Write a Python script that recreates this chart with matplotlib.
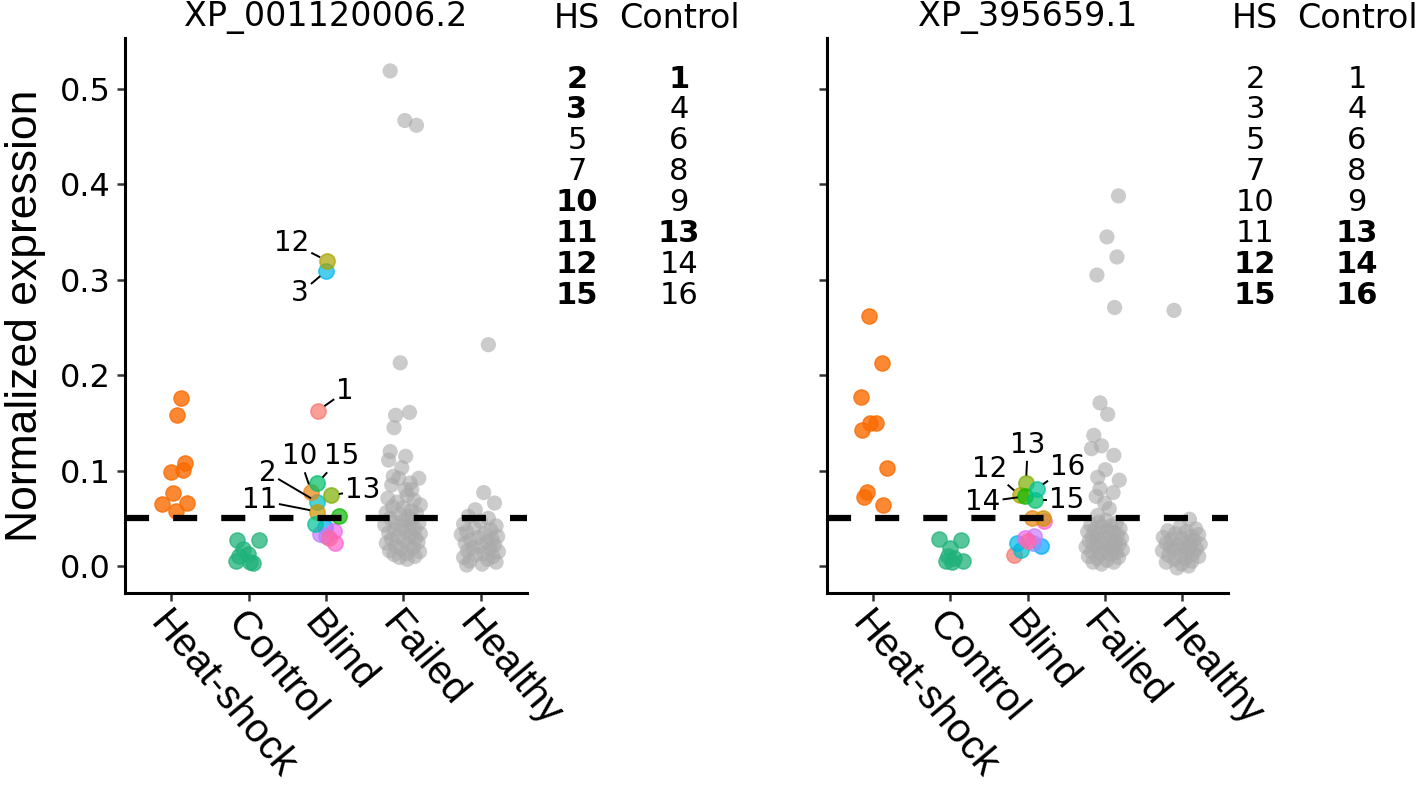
import matplotlib
matplotlib.use("Agg")
import matplotlib.pyplot as plt
import numpy as np

# ---------------- data ----------------
categories = ["Heat-shock", "Control", "Blind", "Failed", "Healthy"]
panel_titles = ["XP_001120006.2", "XP_395659.1"]
ytick_values = [0.0, 0.1, 0.2, 0.3, 0.4, 0.5]
ytick_labels = ["0.0", "0.1", "0.2", "0.3", "0.4", "0.5"]
threshold = 0.05

hs_ids = [2, 3, 5, 7, 10, 11, 12, 15]
ctrl_ids = [1, 4, 6, 8, 9, 13, 14, 16]
bold_left = [2, 3, 10, 11, 12, 15, 1, 13]
bold_right = [12, 15, 13, 14, 16]

# Panel 1 : XP_001120006.2
heat_L = [0.176, 0.158, 0.108, 0.099, 0.101, 0.077, 0.065, 0.066, 0.058]
heat_L_jit = [0.125, 0.074, 0.172, 0.0, 0.151, 0.022, -0.12, 0.203, 0.065]
ctrl_L = [0.027, 0.027, 0.018, 0.013, 0.010, 0.005, 0.003, 0.004]
ctrl_L_jit = [-0.146, 0.133, -0.08, -0.01, -0.12, -0.16, 0.05, 0.02]
blind_L = [0.163, 0.067, 0.309, 0.041, 0.031, 0.034, 0.037, 0.024,
           0.029, 0.078, 0.057, 0.320, 0.074, 0.052, 0.087, 0.044]
blind_L_jit = [-0.10, -0.11, 0.0, -0.01, 0.0, -0.08, 0.10, 0.11,
               0.04, -0.19, -0.11, 0.01, 0.07, 0.17, -0.11, -0.14]
failed_L = [0.519, 0.467, 0.462, 0.213, 0.161, 0.158, 0.145, 0.120, 0.111, 0.115,
            0.103, 0.094, 0.092, 0.092, 0.087, 0.085, 0.080, 0.080,
            0.074, 0.071, 0.069, 0.067, 0.064, 0.062, 0.061, 0.058, 0.056, 0.055,
            0.054, 0.052, 0.050, 0.049, 0.048, 0.046, 0.045, 0.043, 0.042, 0.041,
            0.039, 0.038, 0.036, 0.035, 0.034, 0.032, 0.031, 0.029, 0.028, 0.027,
            0.025, 0.024, 0.022, 0.021, 0.019, 0.018, 0.016, 0.015, 0.013, 0.012,
            0.010, 0.009, 0.007]
failed_L_jit = [-0.17, 0.02, 0.17, -0.04, 0.08, -0.10, -0.12, -0.17, -0.19, 0.03,
                -0.02, -0.13, -0.06, 0.20, 0.09, -0.15, 0.03, 0.11,
                0.05, -0.20, 0.14, -0.08, 0.22, -0.14, 0.0, 0.10, -0.22, 0.17,
                -0.05, 0.07, -0.17, 0.12, 0.02, -0.10, 0.20, -0.24, 0.08, -0.02,
                0.15, -0.12, 0.04, -0.19, 0.22, 0.10, -0.07, 0.16, -0.15, 0.01,
                0.19, -0.22, 0.06, -0.10, 0.13, -0.03, -0.18, 0.21, 0.04, -0.12,
                0.15, -0.05, 0.05]
healthy_L = [0.232, 0.077, 0.066, 0.059, 0.052, 0.050, 0.047, 0.044, 0.042, 0.040,
             0.038, 0.036, 0.034, 0.033, 0.031, 0.030, 0.028, 0.027, 0.025, 0.024,
             0.022, 0.021, 0.019, 0.018, 0.016, 0.015, 0.013, 0.012, 0.010, 0.009,
             0.007, 0.005, 0.004, 0.002, 0.001]
healthy_L_jit = [0.10, 0.04, 0.18, -0.07, -0.16, 0.10, 0.0, -0.22, 0.20, -0.08,
                 0.13, -0.18, 0.05, -0.25, 0.22, -0.03, 0.15, -0.13, 0.08, -0.20,
                 0.18, 0.0, -0.10, 0.12, -0.17, 0.23, 0.04, -0.06, 0.16, -0.22,
                 0.09, -0.14, 0.20, 0.02, -0.18]

# Panel 2 : XP_395659.1
heat_R = [0.262, 0.213, 0.177, 0.150, 0.150, 0.143, 0.103, 0.078, 0.072, 0.064]
heat_R_jit = [-0.06, 0.11, -0.16, -0.04, 0.03, -0.14, 0.18, -0.08, -0.12, 0.13]
ctrl_R = [0.028, 0.027, 0.019, 0.011, 0.008, 0.005, 0.005, 0.004]
ctrl_R_jit = [-0.15, 0.14, 0.0, -0.03, 0.05, -0.06, 0.16, 0.02]
blind_R = [0.012, 0.017, 0.024, 0.021, 0.024, 0.031, 0.029, 0.047,
           0.026, 0.050, 0.050, 0.074, 0.087, 0.073, 0.069, 0.081]
blind_R_jit = [-0.17, -0.09, -0.13, 0.17, 0.07, 0.09, -0.03, 0.21,
               0.0, 0.06, 0.20, -0.10, -0.02, -0.03, 0.10, 0.12]
failed_R = [0.388, 0.345, 0.324, 0.305, 0.271, 0.171, 0.159, 0.137, 0.126, 0.123,
            0.116, 0.101, 0.093, 0.090, 0.081, 0.077, 0.073, 0.066, 0.060, 0.053,
            0.048, 0.046, 0.045, 0.043, 0.042, 0.041, 0.039, 0.038, 0.037, 0.036,
            0.035, 0.034, 0.033, 0.031, 0.030, 0.029, 0.028, 0.027, 0.026, 0.025,
            0.024, 0.023, 0.022, 0.021, 0.020, 0.019, 0.018, 0.017, 0.016, 0.015,
            0.014, 0.013, 0.012, 0.010, 0.009, 0.008, 0.006, 0.004, 0.004, 0.002]
failed_R_jit = [0.18, 0.03, 0.16, -0.10, 0.13, -0.06, 0.04, -0.14, -0.04, -0.17,
                0.12, 0.01, -0.09, 0.19, -0.06, 0.11, -0.11, 0.0, 0.06, -0.09,
                0.02, -0.08, 0.15, -0.18, 0.08, -0.03, 0.20, -0.13, 0.05, -0.22,
                0.12, -0.06, 0.17, -0.16, 0.0, 0.22, -0.10, 0.09, -0.20, 0.14,
                -0.04, 0.19, -0.14, 0.06, -0.24, 0.11, -0.08, 0.23, 0.01, -0.17,
                0.15, -0.05, 0.08, -0.21, 0.18, -0.10, 0.03, -0.15, 0.12, -0.04]
healthy_R = [0.268, 0.049, 0.041, 0.039, 0.037, 0.036, 0.034, 0.033, 0.031, 0.030,
             0.029, 0.028, 0.027, 0.025, 0.024, 0.023, 0.022, 0.021, 0.020, 0.019,
             0.018, 0.017, 0.016, 0.015, 0.013, 0.012, 0.011, 0.010, 0.008, 0.007,
             0.005, 0.004, 0.002, 0.000, -0.002]
healthy_R_jit = [-0.10, 0.10, -0.02, 0.18, -0.18, 0.06, -0.08, 0.22, 0.12, -0.24,
                 0.0, -0.13, 0.16, 0.07, -0.20, 0.24, -0.05, 0.11, -0.15, 0.03,
                 0.19, -0.10, -0.25, 0.08, 0.15, -0.02, -0.17, 0.22, 0.05, -0.09,
                 0.13, -0.20, 0.0, 0.09, -0.06]

# repel labels: sample id -> label position (x in category units, y value)
labels_L = {1: (3.246, 0.183), 2: (2.241, 0.098), 3: (2.664, 0.286),
            10: (2.655, 0.115), 11: (2.137, 0.069), 12: (2.556, 0.339),
            13: (3.475, 0.080), 15: (3.203, 0.115)}
labels_R = {12: (2.508, 0.102), 13: (3.004, 0.127), 14: (2.422, 0.067),
            15: (3.508, 0.069), 16: (3.521, 0.104)}

# ---------------- style ----------------
hue16 = ["#F8766D", "#E68613", "#CD9600", "#ABA300", "#7CAE00", "#0CB702",
         "#00BE67", "#00C19A", "#00BFC4", "#00B8E7", "#00A9FF", "#8494FF",
         "#C77CFF", "#ED68ED", "#FF61CC", "#FF68A1"]
levels = sorted([str(i) for i in range(1, 17)])
blind_colors = {i: hue16[levels.index(str(i))] for i in range(1, 17)}
heat_color = "#FA6A00"
ctrl_color = "#20B27A"
gray_color = "#A9A9A9"
PT_S = 120

W, H = 1418, 789
fig = plt.figure(figsize=(W / 100, H / 100), dpi=100)


def fx(px):
    return px / W


def fy(py):
    return 1 - py / H


axL = fig.add_axes([fx(125), fy(593), fx(527) - fx(125), fy(38) - fy(593)])
axR = fig.add_axes([fx(827), fy(593), fx(1228) - fx(827), fy(38) - fy(593)])

panels = [
    dict(ax=axL, heat=heat_L, heat_j=heat_L_jit, ctrl=ctrl_L, ctrl_j=ctrl_L_jit,
         blind=blind_L, blind_j=blind_L_jit, failed=failed_L, failed_j=failed_L_jit,
         healthy=healthy_L, healthy_j=healthy_L_jit, labels=labels_L,
         bold=bold_left, title=panel_titles[0], ylab=True,
         hs_x=577, ct_x=679),
    dict(ax=axR, heat=heat_R, heat_j=heat_R_jit, ctrl=ctrl_R, ctrl_j=ctrl_R_jit,
         blind=blind_R, blind_j=blind_R_jit, failed=failed_R, failed_j=failed_R_jit,
         healthy=healthy_R, healthy_j=healthy_R_jit, labels=labels_R,
         bold=bold_right, title=panel_titles[1], ylab=False,
         hs_x=1255, ct_x=1357),
]

xpos = np.arange(1, len(categories) + 1)
YLIM = (-0.0283, 0.5535)

for p in panels:
    ax = p["ax"]
    ax.set_xlim(0.4, 5.6)
    ax.set_ylim(*YLIM)
    # points
    ax.scatter(xpos[0] + np.array(p["heat_j"]), p["heat"], s=PT_S, color=heat_color,
               alpha=0.8, edgecolors=heat_color, linewidths=1, zorder=2)
    ax.scatter(xpos[1] + np.array(p["ctrl_j"]), p["ctrl"], s=PT_S, color=ctrl_color,
               alpha=0.75, edgecolors=ctrl_color, linewidths=1, zorder=2)
    ax.scatter(xpos[3] + np.array(p["failed_j"]), p["failed"], s=PT_S, color=gray_color,
               alpha=0.6, edgecolors="none", zorder=2)
    ax.scatter(xpos[4] + np.array(p["healthy_j"]), p["healthy"], s=PT_S, color=gray_color,
               alpha=0.6, edgecolors="none", zorder=2)
    bx = xpos[2] + np.array(p["blind_j"])
    for i in range(16):
        c = blind_colors[i + 1]
        ax.scatter([bx[i]], [p["blind"][i]], s=PT_S, color=c, alpha=0.7,
                   edgecolors=c, linewidths=1.2, zorder=2)
    # threshold
    ax.axhline(threshold, color="black", lw=4.5, dashes=(3.85, 3.85), zorder=3)

    # axes styling
    for side in ("top", "right"):
        ax.spines[side].set_visible(False)
    for side in ("left", "bottom"):
        ax.spines[side].set_linewidth(2.2)
        ax.spines[side].set_color("black")
    ax.set_yticks(ytick_values)
    ax.tick_params(axis="both", length=5.5, width=1.8, color="#333333")
    if p["ylab"]:
        ax.set_yticklabels(ytick_labels, fontsize=23, family="DejaVu Sans")
        ax.tick_params(axis="y", pad=5)
        ax.set_ylabel("Normalized expression", fontsize=32,
                      family="Liberation Sans", labelpad=10)
    else:
        ax.set_yticklabels([])
    ax.set_xticks(xpos)
    ax.set_xticklabels(categories, fontsize=29, family="Liberation Sans",
                       rotation=-50, ha="left", va="top", rotation_mode="anchor")
    ax.tick_params(axis="x", pad=3)

    # title
    cx = (ax.get_position().x0 + ax.get_position().x1) / 2
    fig.text(cx, fy(18), p["title"], ha="center", va="center", fontsize=24,
             family="DejaVu Sans")
    # table
    fig.text(fx(p["hs_x"]), fy(18), "HS", ha="center", va="center", fontsize=24,
             family="DejaVu Sans")
    fig.text(fx(p["ct_x"]), fy(18), "Control", ha="center", va="center", fontsize=24,
             family="DejaVu Sans")
    for r, (h_id, c_id) in enumerate(zip(hs_ids, ctrl_ids)):
        yy = fy(79 + 30.9 * r)
        fig.text(fx(p["hs_x"]), yy, str(h_id), ha="center", va="center", fontsize=22,
                 family="DejaVu Sans",
                 fontweight="bold" if h_id in p["bold"] else "normal")
        fig.text(fx(p["ct_x"]), yy, str(c_id), ha="center", va="center", fontsize=22,
                 family="DejaVu Sans",
                 fontweight="bold" if c_id in p["bold"] else "normal")

    # labels (text only now; segments after draw)
    p["texts"] = []
    for sid, (tx, ty) in p["labels"].items():
        t = ax.text(tx, ty, str(sid), ha="center", va="center", fontsize=20,
                    family="DejaVu Sans", zorder=5)
        p["texts"].append((sid, t))

# segments from label box edge to point edge
fig.canvas.draw()
renderer = fig.canvas.get_renderer()
for p in panels:
    ax = p["ax"]
    bx = xpos[2] + np.array(p["blind_j"])
    inv = ax.transData.inverted()
    for sid, t in p["texts"]:
        bb = t.get_window_extent(renderer)
        pad = 2
        x0, x1, y0, y1 = bb.x0 - pad, bb.x1 + pad, bb.y0 - pad, bb.y1 + pad
        c = np.array([(x0 + x1) / 2, (y0 + y1) / 2])
        pt = ax.transData.transform((bx[sid - 1], p["blind"][sid - 1]))
        d = pt - c
        tvals = []
        if d[0] != 0:
            tvals.append(((x1 if d[0] > 0 else x0) - c[0]) / d[0])
        if d[1] != 0:
            tvals.append(((y1 if d[1] > 0 else y0) - c[1]) / d[1])
        tt = min(tvals)
        start = c + d * tt
        L = np.linalg.norm(pt - start)
        radius = 7.5
        if L <= radius + 2:
            continue
        end = pt - (pt - start) / L * radius
        s_d = inv.transform(start)
        e_d = inv.transform(end)
        ax.plot([s_d[0], e_d[0]], [s_d[1], e_d[1]], color="black", lw=1.4,
                zorder=4, solid_capstyle="butt")

fig.savefig("out.png", dpi=100)
